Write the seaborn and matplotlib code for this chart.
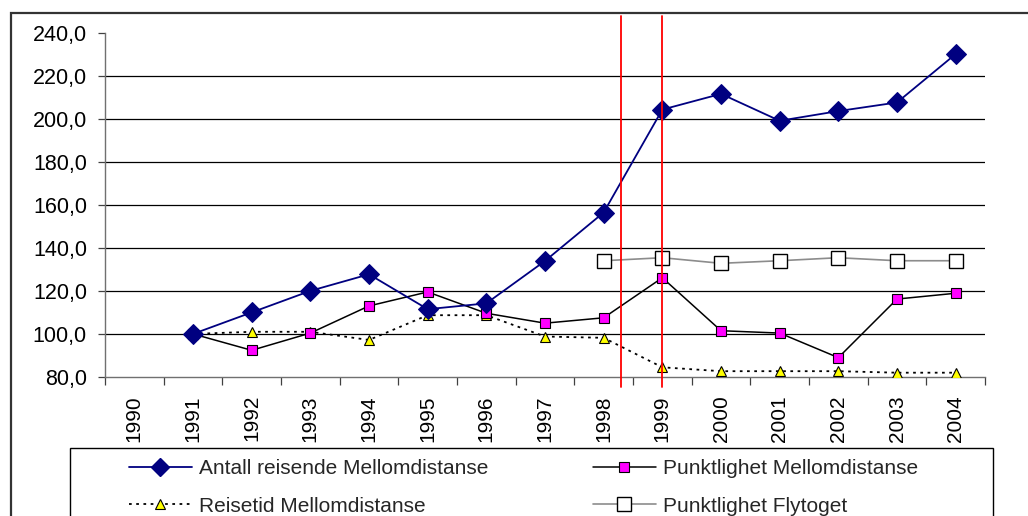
import numpy as np
import pandas as pd
import matplotlib
matplotlib.use("Agg")
import matplotlib.pyplot as plt
from matplotlib.patches import Rectangle
from matplotlib.lines import Line2D
from matplotlib.ticker import FixedLocator, NullFormatter, FixedFormatter
import seaborn as sns

# ---- data ----
years = list(range(1990, 2005))
antall_years = list(range(1991, 2005))
antall = [100.0, 110.0, 120.0, 127.7, 111.5, 114.2, 133.9, 156.4, 204.2, 211.5, 199.0, 203.5, 207.5, 230.0]
punkt_years = list(range(1991, 2005))
punkt = [100.0, 92.4, 100.4, 113.0, 119.5, 109.6, 105.0, 107.5, 126.1, 101.5, 100.4, 89.0, 116.2, 118.9]
reise_years = list(range(1991, 2005))
reise = [100.0, 101.0, 101.0, 97.2, 108.7, 108.7, 98.8, 98.2, 84.5, 82.7, 82.7, 82.7, 82.0, 82.0]
fly_years = list(range(1998, 2005))
fly = [134.0, 135.4, 132.8, 134.0, 135.4, 134.0, 134.0]
red_markers = [1998.3, 1999.0]
y_ticks = [80, 100, 120, 140, 160, 180, 200, 220, 240]

labels = {
    "antall": "Antall reisende Mellomdistanse",
    "punkt": "Punktlighet Mellomdistanse",
    "reise": "Reisetid Mellomdistanse",
    "fly": "Punktlighet Flytoget",
}

sns.set_theme(style="white")
plt.rcParams["font.family"] = ["Liberation Sans", "DejaVu Sans"]
FS = 15

fig = plt.figure(figsize=(10.28, 5.16), dpi=100)
W, H = 1028, 516
ax = fig.add_axes([105 / W, 1 - 377 / H, (985 - 105) / W, (377 - 32.5) / H])

df_a = pd.DataFrame({"year": antall_years, "v": antall})
df_p = pd.DataFrame({"year": punkt_years, "v": punkt})
df_r = pd.DataFrame({"year": reise_years, "v": reise})
df_f = pd.DataFrame({"year": fly_years, "v": fly})

sns.lineplot(data=df_f, x="year", y="v", ax=ax, color="#8c8c8c", lw=1.2,
             marker="s", markersize=10, markerfacecolor="white",
             markeredgecolor="black", markeredgewidth=1.0, zorder=3)
sns.lineplot(data=df_r, x="year", y="v", ax=ax, color="black", lw=1.3,
             linestyle=(0, (1.5, 2.5)), marker="^", markersize=7.5,
             markerfacecolor="#ffff00", markeredgecolor="black",
             markeredgewidth=0.8, zorder=4)
sns.lineplot(data=df_p, x="year", y="v", ax=ax, color="black", lw=1.1,
             marker="s", markersize=6.5, markerfacecolor="#ff00ff",
             markeredgecolor="black", markeredgewidth=0.8, zorder=5)
sns.lineplot(data=df_a, x="year", y="v", ax=ax, color="#000080", lw=1.3,
             marker="D", markersize=10, markerfacecolor="#000080",
             markeredgecolor="#000080", zorder=6)

# red vertical markers (extend beyond axes)
for xr in red_markers:
    ax.plot([xr, xr], [75.2, 247.5], color="#ff0000", lw=1.3, clip_on=False, zorder=7)

ax.set_xlim(years[0] - 0.5, years[-1] + 0.5)
ax.set_ylim(80, 240)
ax.set_xlabel("")
ax.set_ylabel("")

# grid lines at interior ticks only
for yv in y_ticks[1:-1]:
    ax.axhline(yv, color="black", lw=0.9, zorder=1)

ax.set_yticks(y_ticks)
ax.set_yticklabels([f"{v:.1f}".replace(".", ",") for v in y_ticks], fontsize=15.5, color="black")
ax.tick_params(axis="y", which="major", left=True, length=5, width=0.9, color="#404040", pad=8)

bounds = [y - 0.5 for y in years] + [years[-1] + 0.5]
ax.xaxis.set_major_locator(FixedLocator(bounds))
ax.xaxis.set_major_formatter(NullFormatter())
ax.xaxis.set_minor_locator(FixedLocator(years))
ax.xaxis.set_minor_formatter(FixedFormatter([str(y) for y in years]))
ax.tick_params(axis="x", which="major", bottom=True, length=6, width=0.9, color="#404040")
ax.tick_params(axis="x", which="minor", bottom=True, length=0, pad=13, labelsize=FS,
               labelrotation=90, labelcolor="black")

for s in ["top", "right"]:
    ax.spines[s].set_visible(False)
for s in ["left", "bottom"]:
    ax.spines[s].set_color("#707070")
    ax.spines[s].set_linewidth(1.0)

# outer chart frame (extends beyond the image on right/bottom)
fig.patches.append(Rectangle((11 / W, -0.1), 1.2, 1 - 13 / H + 0.1,
                             transform=fig.transFigure, fill=False,
                             edgecolor="#333333", lw=1.6, zorder=0))
# legend frame
fig.patches.append(Rectangle((70 / W, -0.1), (993 - 70) / W, 1 - 448 / H + 0.1,
                             transform=fig.transFigure, fill=False,
                             edgecolor="black", lw=1.0, zorder=0))

h_a = Line2D([], [], color="#000080", lw=1.3, marker="D", markersize=9,
             markerfacecolor="#000080", markeredgecolor="#000080")
h_r = Line2D([], [], color="black", lw=1.3, linestyle=(0, (1.5, 2.5)), marker="^",
             markersize=6.5, markerfacecolor="#ffff00", markeredgecolor="black",
             markeredgewidth=0.8)
h_p = Line2D([], [], color="black", lw=1.1, marker="s", markersize=6.5,
             markerfacecolor="#ff00ff", markeredgecolor="black", markeredgewidth=0.8)
h_f = Line2D([], [], color="#8c8c8c", lw=1.2, marker="s", markersize=10,
             markerfacecolor="white", markeredgecolor="black", markeredgewidth=1.0)

common = dict(frameon=False, fontsize=FS, borderpad=0, borderaxespad=0,
              handlelength=3.0, handletextpad=0.35, labelspacing=0.9,
              loc="upper left", bbox_transform=fig.transFigure)
leg1 = fig.legend([h_a, h_r], [labels["antall"], labels["reise"]],
                  bbox_to_anchor=(129 / W, 1 - 459 / H), **common)
leg2 = fig.legend([h_p, h_f], [labels["punkt"], labels["fly"]],
                  bbox_to_anchor=(593 / W, 1 - 459 / H), **common)

fig.savefig("out.png", dpi=100)
